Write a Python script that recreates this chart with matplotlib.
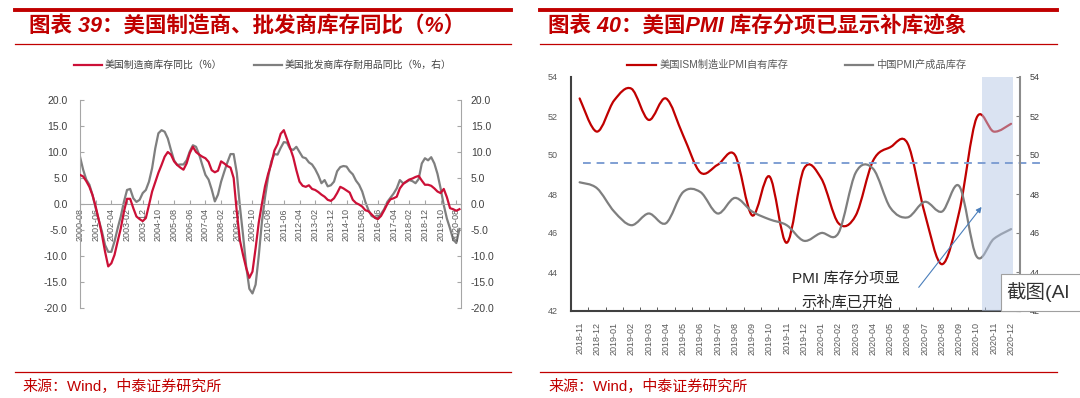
import matplotlib
matplotlib.use('Agg')
import matplotlib.pyplot as plt
import numpy as np
from matplotlib.path import Path
from matplotlib.patches import PathPatch, Rectangle
from matplotlib.lines import Line2D
from matplotlib.transforms import blended_transform_factory

plt.rcParams['font.family'] = ['Liberation Sans', 'Noto Sans CJK SC', 'DejaVu Sans']

# ---------------- Data: chart 39 (every 2 months from 2000-08) ----------------
left_start = '2000-08'
mfg_inv_yoy = [5.6, 5.3, 4.4, 3.3, 1.7, -0.5, -3.1, -5.9, -9.2, -12.0,
               -11.4, -9.8, -7.2, -4.7, -1.5, 1.0, 1.0, -0.8, -2.4, -2.9,
               -3.3, -2.7, -0.2, 2.4, 4.2, 6.0, 7.5, 9.1, 10.0, 9.5,
               8.2, 7.5, 7.0, 6.6, 7.8, 9.8, 11.0, 10.0, 9.5, 9.1,
               8.8, 8.1, 6.5, 6.1, 6.4, 8.2, 7.8, 7.3, 7.0, 5.0,
               -1.5, -7.0, -9.8, -12.3, -14.2, -13.0, -8.5, -3.6, 0.0, 3.4,
               5.8, 7.7, 10.3, 11.5, 13.5, 14.2, 12.5, 10.8, 9.0, 6.5,
               4.3, 3.5, 3.3, 3.6, 2.9, 2.7, 2.3, 1.8, 1.4, 0.8,
               0.6, 1.1, 2.1, 3.3, 3.0, 2.6, 2.2, 0.8, 0.2, -0.1,
               -0.5, -1.2, -1.4, -2.0, -2.6, -2.9, -2.3, -1.2, 0.0, 0.9,
               1.1, 1.4, 3.0, 3.8, 4.3, 4.7, 4.9, 5.2, 5.4, 4.5,
               3.7, 3.7, 3.5, 3.0, 2.4, 2.1, 2.9, 1.3, -0.8, -1.0,
               -1.3, -1.0]
whs_durable_yoy = [9.1, 6.6, 4.7, 3.7, 1.7, -0.8, -3.1, -5.3, -7.9, -9.2,
                   -9.2, -7.2, -4.7, -2.4, 0.4, 2.7, 2.9, 1.1, 0.4, 0.8,
                   2.1, 2.7, 4.3, 6.9, 10.7, 13.6, 14.2, 13.9, 12.6, 10.4,
                   8.4, 7.5, 7.6, 7.6, 8.4, 10.1, 11.3, 11.0, 9.5, 7.5,
                   5.6, 4.7, 2.8, 0.5, 1.8, 4.3, 6.2, 8.0, 9.6, 9.6,
                   6.0, -0.5, -6.0, -12.0, -16.3, -17.2, -15.5, -10.0, -3.5, 1.3,
                   5.2, 8.2, 9.6, 9.5, 10.8, 11.9, 11.8, 10.6, 10.4, 11.0,
                   10.0, 9.0, 8.8, 8.0, 7.6, 6.7, 5.5, 4.0, 4.6, 3.4,
                   3.6, 4.3, 6.3, 7.1, 7.3, 7.2, 6.3, 5.7, 4.5, 3.7,
                   2.4, 0.4, -1.2, -2.3, -2.6, -2.6, -1.9, -1.0, 0.4, 1.2,
                   2.0, 3.0, 4.6, 4.0, 4.2, 4.6, 4.4, 4.0, 4.8, 7.8,
                   8.8, 8.4, 9.0, 7.8, 5.8, 3.0, -0.2, -2.8, -4.7, -6.8,
                   -7.5, -4.8]
left_ticklabels = ['2000-08', '2001-06', '2002-04', '2003-02', '2003-12', '2004-10',
                   '2005-08', '2006-06', '2007-04', '2008-02', '2008-12', '2009-10',
                   '2010-08', '2011-06', '2012-04', '2013-02', '2013-12', '2014-10',
                   '2015-08', '2016-06', '2017-04', '2018-02', '2018-12', '2019-10',
                   '2020-08']

# ---------------- Data: chart 40 (monthly) ----------------
right_months = ['2018-11', '2018-12', '2019-01', '2019-02', '2019-03', '2019-04',
                '2019-05', '2019-06', '2019-07', '2019-08', '2019-09', '2019-10',
                '2019-11', '2019-12', '2020-01', '2020-02', '2020-03', '2020-04',
                '2020-05', '2020-06', '2020-07', '2020-08', '2020-09', '2020-10',
                '2020-11', '2020-12']
ism_inventories = [52.9, 51.2, 52.8, 53.4, 51.8, 52.9, 51.0, 49.1, 49.5, 50.0,
                   46.9, 48.9, 45.5, 49.3, 48.8, 46.5, 46.9, 49.7, 50.4, 50.6,
                   47.0, 44.4, 47.1, 51.9, 51.2, 51.6]
china_finished_inv = [48.6, 48.3, 47.1, 46.4, 47.0, 46.5, 48.1, 48.1, 47.0, 47.8,
                      47.1, 46.7, 46.4, 45.6, 46.0, 46.0, 49.1, 49.3, 47.3, 46.8,
                      47.6, 47.1, 48.4, 44.8, 45.7, 46.2]
threshold_line = 49.6

# ---------------- Helpers ----------------
W, H = 1080, 398
RED_T = '#C00000'


def fx(px):
    return px / W


def fy(py):
    return 1 - py / H


def month_index(label):
    y, m = label.split('-')
    y0, m0 = left_start.split('-')
    return (int(y) - int(y0)) * 12 + int(m) - int(m0)


def smooth_line(ax, x, y, **kw):
    x = np.asarray(x, float)
    y = np.asarray(y, float)
    n = len(x)
    verts = [(x[0], y[0])]
    codes = [Path.MOVETO]
    for i in range(n - 1):
        pa = (x[i - 1], y[i - 1]) if i > 0 else (x[i], y[i])
        pb = (x[i + 2], y[i + 2]) if i + 2 < n else (x[i + 1], y[i + 1])
        c1 = (x[i] + (x[i + 1] - pa[0]) / 6, y[i] + (y[i + 1] - pa[1]) / 6)
        c2 = (x[i + 1] - (pb[0] - x[i]) / 6, y[i + 1] - (pb[1] - y[i]) / 6)
        verts += [c1, c2, (x[i + 1], y[i + 1])]
        codes += [Path.CURVE4] * 3
    patch = PathPatch(Path(verts, codes), fill=False, capstyle='round', **kw)
    ax.add_patch(patch)
    return patch


fig = plt.figure(figsize=(W / 100, H / 100), dpi=100)

# ---------------- Decorations (both panels) ----------------
for (x0, x1, tx, sx, title) in [(15, 511, 29, 22, '图表 39：美国制造商、批发商库存同比（%）'),
                                (540, 1057, 548, 548, '图表 40：美国PMI 库存分项已显示补库迹象')]:
    fig.add_artist(Line2D([fx(x0), fx(x1)], [fy(9.5)] * 2, color=RED_T, lw=2.8,
                          transform=fig.transFigure))
    fig.add_artist(Line2D([fx(x0), fx(x1)], [fy(44)] * 2, color=RED_T, lw=0.9,
                          transform=fig.transFigure))
    fig.add_artist(Line2D([fx(x0), fx(x1)], [fy(372)] * 2, color=RED_T, lw=0.9,
                          transform=fig.transFigure))
    fig.text(fx(tx), fy(27), title, color=RED_T, fontsize=15.5, fontweight='bold',
             style='italic', ha='left', va='center')
    fig.text(fx(sx), fy(386), '来源：Wind，中泰证券研究所',
             color=RED_T, fontsize=10.8, ha='left', va='center')

# ---------------- Chart 39 ----------------
RED_L = '#CC1037'
GRAY_L = '#7F7F7F'
SP = '#A6A6A6'
axL = fig.add_axes([fx(80), fy(308), fx(461 - 80), (308 - 100) / H])
xm = np.arange(len(mfg_inv_yoy)) * 2
axL.plot(xm, mfg_inv_yoy, color=RED_L, lw=1.6, zorder=3, solid_joinstyle='round')
axL2 = axL.twinx()
axL2.plot(xm, whs_durable_yoy, color=GRAY_L, lw=1.6, zorder=2, solid_joinstyle='round')
axL.set_zorder(axL2.get_zorder() + 1)
axL.patch.set_visible(False)
for a, pd_ in ((axL, 9), (axL2, 7)):
    a.set_ylim(-20, 20)
    a.set_yticks(np.arange(-20, 21, 5))
    a.set_yticklabels([f'{v:.1f}' for v in np.arange(-20, 21, 5)])
    a.tick_params(axis='y', labelsize=7.5, colors='#404040', length=3,
                  direction='in', color=SP, pad=pd_)
    a.spines['top'].set_visible(False)
axL.set_xlim(0, 243)
axL.spines['right'].set_visible(False)
axL.spines['left'].set_color(SP)
axL.spines['bottom'].set_position(('data', 0))
axL.spines['bottom'].set_color(SP)
axL2.spines['left'].set_visible(False)
axL2.spines['bottom'].set_visible(False)
axL2.spines['right'].set_color(SP)
axL.set_xticks([month_index(s) for s in left_ticklabels])
axL.set_xticklabels(left_ticklabels, rotation=90, fontsize=6.5, color='#595959')
axL.tick_params(axis='x', direction='in', length=3, color=SP, pad=3)

fig.legend(handles=[Line2D([], [], color=RED_L, lw=1.6),
                    Line2D([], [], color=GRAY_L, lw=1.6)],
           labels=['美国制造商库存同比（%）', '美国批发商库存耐用品同比（%，右）'],
           loc='center', bbox_to_anchor=(fx(263), fy(65)), ncol=2, frameon=False,
           fontsize=7.1, handlelength=2.8, handletextpad=0.3, columnspacing=3.2,
           labelcolor='#404040')

# ---------------- Chart 40 ----------------
RED_R = '#C00000'
GRAY_R = '#7F7F7F'
axP = fig.add_axes([fx(571), fy(311), fx(1019.7 - 571), (311 - 77) / H])
xc = np.arange(len(right_months))
smooth_line(axP, xc, ism_inventories, color=RED_R, lw=1.6, zorder=3)
smooth_line(axP, xc, china_finished_inv, color=GRAY_R, lw=1.6, zorder=3)
axP.axvspan(23.3, 25.1, color='#B6C8E6', alpha=0.5, lw=0, zorder=4)
trans = blended_transform_factory(axP.transAxes, axP.transData)
axP.add_line(Line2D([0.026, 1.055], [threshold_line] * 2, transform=trans,
                    color='#7F9FD3', lw=1.4, ls=(0, (4, 3)), clip_on=False, zorder=5))
axP.set_xlim(-0.5, 25.45)
axP.set_ylim(42, 54)
axP.set_yticks(np.arange(42, 55, 2))
axP.tick_params(axis='y', labelsize=6.5, colors='#595959', length=0, pad=9.5)
axP.set_xticks(xc)
axP.set_xticklabels(right_months, rotation=90, fontsize=6.5, color='#595959')
axP.set_xticks(np.arange(-0.5, 25.6, 1), minor=True)
axP.tick_params(axis='x', which='major', length=0, pad=8)
axP.tick_params(axis='x', which='minor', length=3, direction='in', color='#404040')
axP2 = axP.twinx()
axP2.set_ylim(42, 54)
axP2.set_yticks(np.arange(42, 55, 2))
axP2.tick_params(axis='y', labelsize=6.5, colors='#404040', length=3, direction='in',
                 color='#808080', pad=7)
for a in (axP, axP2):
    a.spines['top'].set_visible(False)
axP.spines['left'].set_color('#404040')
axP.spines['left'].set_linewidth(1.5)
axP.spines['bottom'].set_color('#404040')
axP.spines['bottom'].set_linewidth(1.5)
axP.spines['right'].set_visible(False)
axP2.spines['left'].set_visible(False)
axP2.spines['bottom'].set_visible(False)
axP2.spines['right'].set_color('#8C8C8C')
axP2.spines['right'].set_linewidth(1.5)

axP.annotate('', xy=(23.39, 47.45), xytext=(19.55, 43.1),
             arrowprops=dict(arrowstyle='-|>', color='#4A7EBB', lw=0.8,
                             mutation_scale=8), zorder=6)
fig.text(fx(846), fy(279), 'PMI 库存分项显', fontsize=11, ha='center', va='center',
         color='#262626')
fig.text(fx(847), fy(303), '示补库已开始', fontsize=11, ha='center', va='center',
         color='#262626')

fig.legend(handles=[Line2D([], [], color=RED_R, lw=1.6),
                    Line2D([], [], color=GRAY_R, lw=1.6)],
           labels=['美国ISM制造业PMI自有库存', '中国PMI产成品库存'],
           loc='center', bbox_to_anchor=(fx(797), fy(65)), ncol=2, frameon=False,
           fontsize=7.4, handlelength=2.8, handletextpad=0.3, columnspacing=5.5,
           labelcolor='#595959')

# screenshot-tool tooltip visible in the reference (cut off by the image edge)
fig.add_artist(Rectangle((fx(1001), fy(311)), fx(1085 - 1001), (311 - 274) / H,
                         transform=fig.transFigure, fc='white', ec='#A0A0A0',
                         lw=0.8, zorder=10))
fig.text(fx(1006), fy(292), '截图(Al', fontsize=14, ha='left', va='center',
         color='#333333', zorder=11)

fig.savefig('out.png', dpi=100)
